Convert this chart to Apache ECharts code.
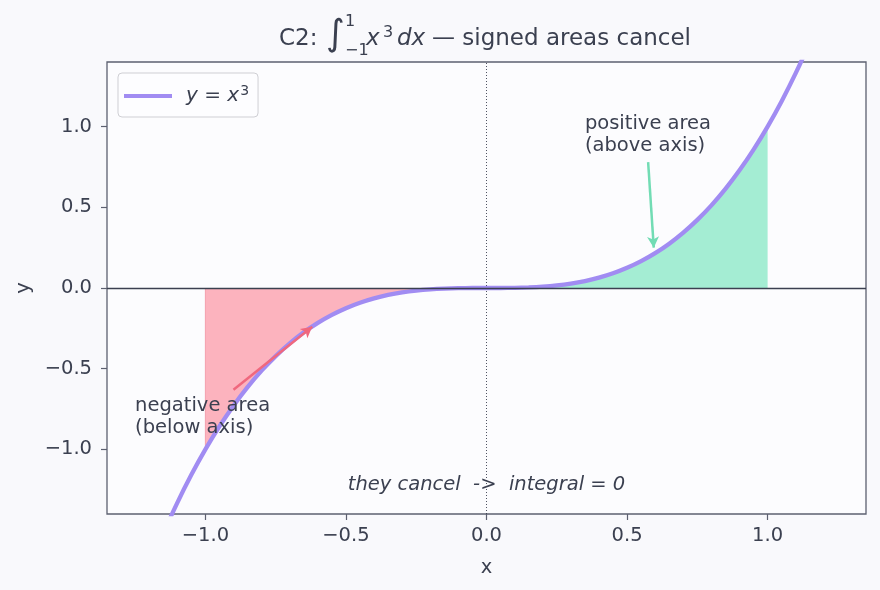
<!DOCTYPE html>
<html>
<head>
<meta charset="utf-8">
<script src="https://cdn.jsdelivr.net/npm/echarts@6/dist/echarts.min.js"></script>
<style>
  html, body { margin: 0; padding: 0; background: #f9f9fc; }
  #chart { width: 880px; height: 590px; }
</style>
</head>
<body>
<div id="chart"></div>
<script>
var xs = [-1.35, -1.3, -1.25, -1.2, -1.15, -1.1, -1.05, -1.0, -0.95, -0.9, -0.85, -0.8, -0.75, -0.7,
          -0.65, -0.6, -0.55, -0.5, -0.45, -0.4, -0.35, -0.3, -0.25, -0.2, -0.15, -0.1, -0.05, 0,
          0.05, 0.1, 0.15, 0.2, 0.25, 0.3, 0.35, 0.4, 0.45, 0.5, 0.55, 0.6, 0.65, 0.7,
          0.75, 0.8, 0.85, 0.9, 0.95, 1.0, 1.05, 1.1, 1.15, 1.2, 1.25, 1.3, 1.35];
var ys = [-2.4604, -2.197, -1.9531, -1.728, -1.5209, -1.331, -1.1576, -1.0, -0.8574, -0.729, -0.6141, -0.512, -0.4219, -0.343,
          -0.2746, -0.216, -0.1664, -0.125, -0.0911, -0.064, -0.0429, -0.027, -0.0156, -0.008, -0.0034, -0.001, -0.0001, 0,
          0.0001, 0.001, 0.0034, 0.008, 0.0156, 0.027, 0.0429, 0.064, 0.0911, 0.125, 0.1664, 0.216, 0.2746, 0.343,
          0.4219, 0.512, 0.6141, 0.729, 0.8574, 1.0, 1.1576, 1.331, 1.5209, 1.728, 1.9531, 2.197, 2.4604];
var negRange = [-1, 0];
var posRange = [0, 1];
var xTicks = [-1.0, -0.5, 0.0, 0.5, 1.0];
var yTicks = [-1.0, -0.5, 0.0, 0.5, 1.0];
var xLim = [-1.35, 1.35];
var yLim = [-1.4, 1.4];
// annotation arrows: [tail, head]
var negArrow = [[-0.9, -0.63], [-0.62, -0.24]];
var posArrow = [[0.575, 0.78], [0.595, 0.25]];

var ink = '#3b4050';
var spine = '#5c6070';
var fontFam = 'DejaVu Sans';

var curve = xs.map(function (x, i) { return [x, ys[i]]; });
var negData = curve.filter(function (p) { return p[0] >= negRange[0] && p[0] <= negRange[1]; });
var posData = curve.filter(function (p) { return p[0] >= posRange[0] && p[0] <= posRange[1]; });

function fmt(v) {
    return (v < 0 ? '\u2212' : '') + Math.abs(v).toFixed(1);
}

var chart = echarts.init(document.getElementById('chart'));

var option = {
    backgroundColor: '#f9f9fc',
    animation: false,
    grid: {
        left: 107, right: 14, top: 62, bottom: 76,
        show: true,
        backgroundColor: '#fcfcfe',
        borderColor: spine,
        borderWidth: 1.3
    },
    legend: {
        left: 118, top: 73,
        padding: [11, 9, 11, 6],
        backgroundColor: '#fdfdff',
        borderColor: '#cfcfd4',
        borderWidth: 1,
        borderRadius: 4,
        icon: 'rect',
        itemWidth: 48,
        itemHeight: 4,
        data: [{ name: 'curve' }],
        formatter: function () { return '{i|y}{n| = }{i|x}{s|3}'; },
        textStyle: {
            padding: [0, 0, 0, 9],
            rich: {
                i: { fontFamily: fontFam, fontStyle: 'italic', fontSize: 20, color: ink },
                n: { fontFamily: fontFam, fontSize: 20, color: ink },
                s: { fontFamily: fontFam, fontSize: 14, color: ink, verticalAlign: 'top', padding: [0, 0, 10, 1] }
            }
        }
    },
    xAxis: {
        type: 'value',
        min: xLim[0], max: xLim[1],
        name: 'x',
        nameLocation: 'middle',
        nameGap: 44,
        nameTextStyle: { fontFamily: fontFam, fontSize: 19.5, color: ink },
        axisLine: { show: false, onZero: false },
        axisTick: { show: true, length: 6, customValues: xTicks, lineStyle: { color: spine, width: 1.2 } },
        axisLabel: { customValues: xTicks, formatter: fmt, margin: 12, fontFamily: fontFam, fontSize: 19.5, color: ink },
        splitLine: { show: false }
    },
    yAxis: {
        type: 'value',
        min: yLim[0], max: yLim[1],
        name: 'y',
        nameLocation: 'middle',
        nameGap: 72,
        nameTextStyle: { fontFamily: fontFam, fontSize: 19.5, color: ink },
        axisLine: { show: false, onZero: false },
        axisTick: { show: true, length: 6, customValues: yTicks, lineStyle: { color: spine, width: 1.2 } },
        axisLabel: { customValues: yTicks, formatter: fmt, margin: 15, fontFamily: fontFam, fontSize: 19.5, color: ink },
        splitLine: { show: false }
    },
    series: [
        {
            name: 'neg',
            type: 'line',
            data: negData,
            symbol: 'none',
            lineStyle: { width: 0 },
            areaStyle: { color: '#fcb3be', opacity: 1 },
            z: 1
        },
        {
            name: 'pos',
            type: 'line',
            data: posData,
            symbol: 'none',
            lineStyle: { width: 0 },
            areaStyle: { color: '#a4edd3', opacity: 1 },
            z: 1
        },
        {
            name: 'refs',
            type: 'line',
            data: [],
            z: 2,
            markLine: {
                silent: true,
                symbol: 'none',
                label: { show: false },
                data: [
                    { xAxis: negRange[0], lineStyle: { color: '#f4a0ae', width: 1, type: 'solid' } },
                    { yAxis: 0, lineStyle: { color: ink, width: 1.4, type: 'solid' } },
                    { xAxis: 0, lineStyle: { color: ink, width: 0.9, type: [1, 2] } }
                ]
            }
        },
        {
            name: 'curve',
            type: 'line',
            data: curve,
            symbol: 'none',
            smooth: 0.2,
            color: '#a18cf2',
            lineStyle: { color: '#a18cf2', width: 4.3 },
            z: 3
        },
        {
            name: 'arrows',
            type: 'line',
            data: [],
            z: 4,
            markLine: {
                silent: true,
                symbol: ['none', 'arrow'],
                symbolSize: [9, 11],
                label: { show: false },
                data: [
                    [{ coord: negArrow[0], lineStyle: { color: '#f0687e', width: 2.5, type: 'solid' } }, { coord: negArrow[1] }],
                    [{ coord: posArrow[0], lineStyle: { color: '#72dcb4', width: 2.5, type: 'solid' } }, { coord: posArrow[1] }]
                ]
            }
        }
    ]
};

chart.setOption(option);

// the pink edge line should only span the filled part (y from -1 to 0)
var edgeTop = chart.convertToPixel({ gridIndex: 0 }, [negRange[0], 0]);
var edgeBot = chart.convertToPixel({ gridIndex: 0 }, [negRange[0], -1]);

function px(p) { return chart.convertToPixel({ gridIndex: 0 }, p); }

var negTxt = px([-1.25, -0.8]);
var posTxt = px([0.35, 0.95]);
var midTxt = px([0, -1.22]);

function t(x, y, text, size, extra) {
    var s = { text: text, font: (extra && extra.italic ? 'italic ' : '') + size + 'px "' + fontFam + '"',
              fill: ink, align: (extra && extra.align) || 'left', verticalAlign: 'middle' };
    if (extra && extra.lineHeight) { s.lineHeight = extra.lineHeight; }
    return { type: 'text', x: x, y: y, z: 100, style: s };
}

// replace the full-height edge with one limited to the fill
option.series[2].markLine.data.shift();
chart.setOption(option, true);

chart.setOption({
    graphic: [
        { type: 'line', z: 1, shape: { x1: edgeTop[0], y1: edgeTop[1], x2: edgeBot[0], y2: edgeBot[1] },
          style: { stroke: '#f4a0ae', lineWidth: 1 } },
        // title with math
        t(279, 39.5, 'C2:', 23),
        t(326, 36, '\u222B', 36),
        t(345, 22, '1', 16),
        t(345, 51, '\u22121', 16),
        t(366, 39.5, 'x', 23, { italic: true }),
        t(383, 33, '3', 16),
        t(397, 39.5, 'dx', 23, { italic: true }),
        t(432, 39.5, '\u2014 signed areas cancel', 23),
        // annotations
        t(negTxt[0], negTxt[1], 'negative area\n(below axis)', 19.5, { lineHeight: 22 }),
        t(posTxt[0], posTxt[1], 'positive area\n(above axis)', 19.5, { lineHeight: 22 }),
        t(midTxt[0], midTxt[1], 'they cancel  ->  integral = 0', 19.5, { italic: true, align: 'center' })
    ]
});
</script>
</body>
</html>
